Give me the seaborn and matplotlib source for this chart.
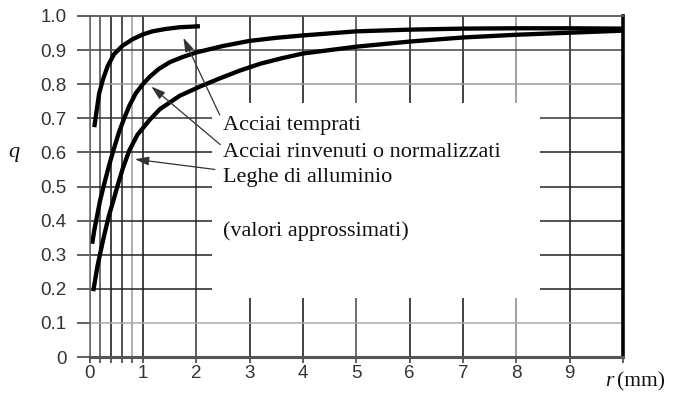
import numpy as np
import pandas as pd
import matplotlib
matplotlib.use("Agg")
import matplotlib.pyplot as plt
import matplotlib.transforms as mtransforms
from matplotlib.patches import Rectangle
import seaborn as sns

sns.set_theme(style="white")
plt.rcParams["font.family"] = ["Liberation Sans", "DejaVu Sans"]

SERIF = ["Liberation Serif", "DejaVu Serif"]

# notch radius r (mm) and sensitivity q
r_temprati = [0.09, 0.14, 0.18, 0.25, 0.34, 0.46, 0.62, 0.81, 1.0, 1.18,
              1.43, 1.69, 2.07]
q_temprati = [0.674, 0.729, 0.772, 0.813, 0.853, 0.888, 0.913, 0.932, 0.946,
              0.955, 0.962, 0.967, 0.97]

r_rinvenuti = [0.05, 0.09, 0.14, 0.2, 0.28, 0.36, 0.45, 0.55, 0.65, 0.75,
               0.87, 1.0, 1.13, 1.3, 1.51, 1.75, 2.0, 2.5, 3.0, 3.5,
               4, 5, 6, 7, 8, 9, 10]
q_rinvenuti = [0.332, 0.372, 0.412, 0.46, 0.51, 0.558, 0.607, 0.658, 0.70, 0.738,
               0.774, 0.80, 0.822, 0.845, 0.865, 0.88, 0.893, 0.912, 0.927, 0.936,
               0.943, 0.955, 0.96, 0.963, 0.964, 0.964, 0.963]

r_alluminio = [0.07, 0.15, 0.22, 0.28, 0.36, 0.45, 0.54, 0.63, 0.75, 0.9,
               1.12, 1.32, 1.69, 2.07, 2.44, 2.82, 3.2, 3.6, 4, 5,
               6, 7, 8, 9, 10]
q_alluminio = [0.193, 0.267, 0.318, 0.36, 0.412, 0.46, 0.51, 0.556, 0.607, 0.652,
               0.694, 0.727, 0.766, 0.793, 0.817, 0.84, 0.86, 0.876, 0.89, 0.91,
               0.925, 0.937, 0.945, 0.951, 0.957]

labels = ["Acciai temprati", "Acciai rinvenuti o normalizzati", "Leghe di alluminio"]
note = "(valori approssimati)"

x_ticks = [0, 1, 2, 3, 4, 5, 6, 7, 8, 9, 10]
x_ticklabels = ["0", "1", "2", "3", "4", "5", "6", "7", "8", "9", ""]
x_minor = [0.2, 0.4, 0.6, 0.8]
y_ticks = [0, 0.1, 0.2, 0.3, 0.4, 0.5, 0.6, 0.7, 0.8, 0.9, 1.0]
y_ticklabels = ["0", "0.1", "0.2", "0.3", "0.4", "0.5", "0.6", "0.7", "0.8", "0.9", "1.0"]

df = pd.concat([
    pd.DataFrame({"r": r_temprati, "q": q_temprati, "mat": labels[0]}),
    pd.DataFrame({"r": r_rinvenuti, "q": q_rinvenuti, "mat": labels[1]}),
    pd.DataFrame({"r": r_alluminio, "q": q_alluminio, "mat": labels[2]}),
])

fig = plt.figure(figsize=(6.89, 4.07), dpi=100)
ax = fig.add_axes([89.5 / 689, 1 - 357 / 407, 533.5 / 689, 341 / 407])

# scanned grid: some lines came out grey, most black
xgrid = [0, 0.2, 0.4, 0.6, 0.8, 1, 2, 3, 4, 5, 6, 7, 8, 9]
xgrid_col = ["#666", "#444", "#111", "#222", "#999", "#111", "#333",
             "#111", "#111", "#444", "#111", "#111", "#888", "#111"]
ygrid = [0.1, 0.2, 0.3, 0.4, 0.5, 0.6, 0.7, 0.8, 0.9]
ygrid_col = ["#aaa", "#222", "#222", "#222", "#222", "#222", "#333", "#999", "#444"]
for xv, c in zip(xgrid, xgrid_col):
    ax.axvline(xv, color=c, lw=1.1, zorder=0.5)
for yv, c in zip(ygrid, ygrid_col):
    ax.axhline(yv, color=c, lw=1.1, zorder=0.5)

# white patch over the middle of the grid, where the labels sit
ax.add_patch(Rectangle((2.29, 0.172), 8.44 - 2.29, 0.744 - 0.172,
                       facecolor="white", edgecolor="none", zorder=1))

sns.lineplot(data=df, x="r", y="q", hue="mat", units="mat", estimator=None,
             sort=False, palette=["black"] * 3, lw=3.1, legend=False, ax=ax,
             zorder=2)
for ln in ax.get_lines()[-3:]:
    ln.set_solid_capstyle("butt")
    ln.set_solid_joinstyle("round")

ax.set_xlim(0, 10)
ax.set_ylim(0, 1.0)
ax.set_xticks(x_ticks)
ax.set_xticklabels(x_ticklabels)
ax.set_xticks(x_minor, minor=True)
ax.set_yticks(y_ticks)
ax.set_yticklabels(y_ticklabels)
ax.set_xlabel("")
ax.set_ylabel("")
ax.xaxis.set_ticks_position("bottom")
ax.yaxis.set_ticks_position("left")
ax.tick_params(axis="y", which="major", direction="out", length=9.5, width=1.1,
               color="#333", pad=7, labelsize=13.5, labelcolor="#333")
ax.tick_params(axis="x", which="both", direction="out", length=4.3, width=1.1,
               color="#333", pad=1.5, labelsize=13.5, labelcolor="#333")
for t in ax.xaxis.get_major_ticks() + ax.xaxis.get_minor_ticks():
    t.tick2line.set_visible(False)
for t in ax.yaxis.get_major_ticks():
    t.tick2line.set_visible(False)

for side in ["left", "right", "top", "bottom"]:
    ax.spines[side].set_visible(True)
ax.spines["left"].set_color("#666")
ax.spines["left"].set_linewidth(1.1)
ax.spines["top"].set_color("#555")
ax.spines["top"].set_linewidth(1.3)
ax.spines["bottom"].set_color("#555")
ax.spines["bottom"].set_linewidth(2.2)
ax.spines["right"].set_color("black")
ax.spines["right"].set_linewidth(2.6)

# labels and arrows
text_pos = [(2.5, 0.665), (2.5, 0.586), (2.5, 0.512)]
arrow_tail = [(2.44, 0.71), (2.45, 0.623), (2.35, 0.55)]
arrow_tip = [(1.76, 0.936), (1.16, 0.793), (0.85, 0.58)]
for lab, (tx, ty), tail, tip in zip(labels, text_pos, arrow_tail, arrow_tip):
    ax.text(tx, ty, lab, family=SERIF, fontsize=16, color="#111",
            va="baseline", ha="left", zorder=3)
    ax.annotate("", xy=tip, xytext=tail, zorder=3,
                arrowprops=dict(arrowstyle="-|>,head_length=0.7,head_width=0.22",
                                color="#333", lw=0.9, shrinkA=0, shrinkB=0))
ax.text(2.5, 0.356, note, family=SERIF, fontsize=16, color="#111",
        va="baseline", ha="left", zorder=3)

trans = mtransforms.blended_transform_factory(fig.transFigure, ax.transData)
ax.text(8 / 689, 0.6, "q", transform=trans, family=SERIF, style="italic",
        fontsize=16, color="#111", va="center", ha="left")
fig.text(605 / 689, 1 - 382 / 407, "r", family=SERIF, style="italic",
         fontsize=15.5, color="#111", va="center", ha="left")
fig.text(617 / 689, 1 - 382 / 407, "(mm)", family=SERIF,
         fontsize=15.5, color="#111", va="center", ha="left")

fig.savefig("out.png", dpi=100, facecolor="white")
